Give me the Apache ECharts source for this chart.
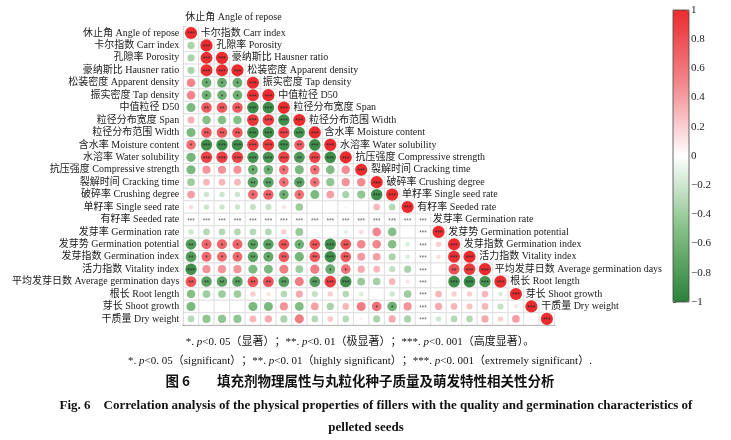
<!DOCTYPE html>
<html><head><meta charset="utf-8">
<script src="https://cdn.jsdelivr.net/npm/echarts@6/dist/echarts.min.js"></script>
<style>html,body{margin:0;padding:0;background:#fff}#c{width:731px;height:440px}</style>
</head><body><div id="c"></div>
<script>
const namesCN = ['休止角','卡尔指数','孔隙率','豪纳斯比','松装密度','振实密度','中值粒径','粒径分布宽度','粒径分布范围','含水率','水溶率','抗压强度','裂解时间','破碎率','单籽率','有籽率','发芽率','发芽势','发芽指数','活力指数','平均发芽日数','根长','芽长','干质量'];
const namesEN = ['Angle of repose','Carr index','Porosity','Hausner ratio','Apparent density','Tap density','D50','Span','Width','Moisture content','Water solubility','Compressive strength','Cracking time','Crushing degree','Single seed rate','Seeded rate','Germination rate','Germination potential','Germination index','Vitality index','Average germination days','Root length','Shoot growth','Dry weight'];
// lower-triangle correlation rows (null = not computable)
const corr = [
 [1],
 [-0.35, 1],
 [-0.35, 0.97, 1],
 [-0.35, 0.98, 0.97, 1],
 [0.5, -0.65, -0.65, -0.65, 1],
 [0.5, -0.63, -0.63, -0.63, 0.96, 1],
 [-0.55, 0.75, 0.75, 0.75, -0.9, -0.9, 1],
 [0.33, -0.5, -0.5, -0.5, 0.93, 0.9, -0.88, 1],
 [-0.55, 0.75, 0.75, 0.75, -0.9, -0.9, 0.88, -0.86, 1],
 [0.62, -0.88, -0.88, -0.88, 0.9, 0.92, -0.88, 0.72, -0.9, 1],
 [-0.58, 0.88, 0.88, 0.88, -0.86, -0.85, 0.88, -0.8, 0.88, -0.9, 1],
 [-0.55, 0.45, 0.45, 0.45, -0.65, -0.62, 0.62, -0.55, 0.62, -0.52, 0.48, 1],
 [-0.4, 0.3, 0.3, 0.3, -0.75, -0.75, 0.63, -0.74, 0.62, -0.45, 0.45, 0.48, 1],
 [0.4, -0.2, -0.2, -0.2, 0.65, 0.72, -0.63, 0.62, -0.55, 0.4, -0.35, -0.45, -0.88, 1],
 [0.15, -0.2, -0.2, -0.2, -0.25, -0.25, 0.12, -0.4, 0.03, 0.02, 0.05, 0.02, 0.3, -0.3, 1],
 [null, null, null, null, null, null, null, null, null, null, null, null, null, null, null, null],
 [-0.2, -0.3, -0.3, -0.3, -0.3, -0.3, 0.2, -0.42, 0.04, 0.02, -0.12, 0.15, 0.5, -0.5, 0.02, null, 1],
 [-0.78, 0.68, 0.68, 0.68, -0.75, -0.75, 0.78, -0.62, 0.78, -0.88, 0.78, 0.5, 0.5, -0.5, -0.15, null, 0.2, 1],
 [-0.78, 0.66, 0.66, 0.66, -0.73, -0.68, 0.75, -0.58, 0.76, -0.88, 0.76, 0.42, 0.4, -0.35, -0.15, null, 0.15, 0.97, 1],
 [-0.88, 0.45, 0.45, 0.45, -0.55, -0.55, 0.55, -0.4, 0.56, -0.65, 0.62, 0.35, 0.3, -0.25, -0.35, null, 0.03, 0.8, 0.92, 1],
 [0.78, -0.75, -0.75, -0.75, 0.78, 0.78, -0.78, 0.55, -0.78, 0.9, -0.88, -0.42, -0.38, 0.3, 0.12, null, 0.04, -0.9, -0.92, -0.86, 1],
 [-0.5, -0.4, -0.4, -0.4, 0.2, 0.12, -0.3, 0.35, -0.25, 0.2, -0.3, -0.15, 0.03, -0.2, -0.4, null, 0.3, 0.2, 0.2, 0.3, -0.15, 1],
 [-0.55, 0.01, 0.01, 0.01, -0.55, -0.55, 0.45, -0.52, 0.4, -0.35, 0.3, 0.55, 0.62, -0.62, 0.45, null, 0.35, 0.3, 0.25, 0.3, -0.25, 0.12, 1],
 [-0.3, -0.45, -0.45, -0.45, 0.3, 0.35, -0.35, 0.55, -0.3, 0.22, -0.3, 0.08, -0.35, 0.35, -0.35, null, -0.2, -0.3, -0.3, 0.35, 0.2, 0.4, 0.05, 1]
];
const sigCuts = [0.6, 0.72, 0.85]; // |r| thresholds for *, **, ***
const barTicks = [-1, -0.8, -0.6, -0.4, -0.2, 0, 0.2, 0.4, 0.6, 0.8, 1];
const palette = ['#2B8139', '#84C086', '#FFFFFF', '#F2868C', '#EB2B2E'];

const labels = namesCN.map((c, i) => c + ' ' + namesEN[i]);
const cells = [];
corr.forEach((row, i) => row.forEach((r, j) => cells.push([j, i, r === null ? 0 : r, r === null ? 1 : 0])));
const FONT = '"Liberation Serif", "Noto Sans CJK SC"';

function stars(a) {
  if (a >= sigCuts[2]) return '***';
  if (a >= sigCuts[1]) return '**';
  if (a >= sigCuts[0]) return '*';
  return '';
}

function renderItem(params, api) {
  const j = api.value(0), i = api.value(1), r = api.value(2), na = api.value(3) === 1;
  const c = api.coord([j, i]);
  const sz = api.size([1, 1]);
  const w = sz[0], h = sz[1];
  const ch = [{type: 'rect', shape: {x: c[0] - w / 2, y: c[1] - h / 2, width: w, height: h},
    style: {fill: '#fff', stroke: '#dcdcdc', lineWidth: 0.8}, z2: 0}];
  if (!na) {
    ch.push({type: 'circle', shape: {cx: c[0], cy: c[1], r: Math.sqrt(Math.abs(r)) * h * 0.49},
      style: {fill: api.visual('color')}, z2: 1});
  }
  const s = na ? '***' : stars(Math.abs(r));
  if (s) ch.push({type: 'text', style: {text: s, x: c[0], y: c[1] + 1.6, align: 'center', verticalAlign: 'middle',
    font: '6.5px "Liberation Sans"', fill: na ? '#666' : '#2a2a2a'}, z2: 2});
  if (i === j) {
    ch.push({type: 'text', style: {text: labels[j], x: c[0] - w / 2 + 2, y: c[1] - h - (j === 0 ? 3 : 0),
      align: 'left', verticalAlign: 'middle', font: '10px ' + FONT, fill: '#1a1a1a'}, z2: 10});
  }
  return {type: 'group', children: ch};
}

const chart = echarts.init(document.getElementById('c'), null, {renderer: 'canvas'});
chart.setOption({
  animation: false,
  grid: [
    {left: 183.3, top: 26.8, width: 371.3, height: 298.3},
    {left: 673, top: 10, width: 16, height: 292}
  ],
  xAxis: [
    {type: 'category', gridIndex: 0, data: labels.map((_, k) => k), axisLabel: {show: false}, axisTick: {show: false},
     axisLine: {show: true, lineStyle: {color: '#707070', width: 1.6}}, splitLine: {show: false}},
    {type: 'value', gridIndex: 1, show: false, min: 0, max: 1}
  ],
  yAxis: [
    {type: 'category', gridIndex: 0, inverse: true, data: labels,
     axisLabel: {interval: 0, fontSize: 10, fontFamily: FONT, color: '#1a1a1a', margin: 4},
     axisTick: {show: false}, axisLine: {show: true, lineStyle: {color: '#707070', width: 1.6}}, splitLine: {show: false}},
    {type: 'value', gridIndex: 1, position: 'right', min: barTicks[0], max: barTicks[barTicks.length - 1], interval: 0.2,
     axisLine: {show: false}, axisTick: {show: true, length: 3, lineStyle: {color: '#333', width: 0.8}},
     axisLabel: {margin: 2, fontSize: 11, fontFamily: '"Liberation Serif"', color: '#222',
       formatter: v => { const t = Math.round(v * 10) / 10; return t < 0 ? '\u2212' + Math.abs(t) : String(t); }},
     splitLine: {show: false}}
  ],
  visualMap: {type: 'continuous', min: -1, max: 1, dimension: 2, seriesIndex: 0, calculable: false,
    left: 673, top: 10, itemWidth: 16, itemHeight: 292, padding: 0, text: null, showLabel: false,
    inRange: {color: palette}},
  series: [{type: 'custom', coordinateSystem: 'cartesian2d', xAxisIndex: 0, yAxisIndex: 0, clip: false,
    encode: {x: 0, y: 1}, data: cells, renderItem: renderItem}],
  graphic: [
    {type: 'rect', shape: {x: 673, y: 10, width: 16, height: 292}, style: {fill: 'none', stroke: '#444', lineWidth: 0.8}, z: 100},
    {type: 'text', x: 360, y: 342, z: 100, style: {text: '*. {i|p}<0. 05（显著）；**. {i|p}<0. 01（极显著）；***. {i|p}<0. 001（高度显著）。',
      align: 'center', verticalAlign: 'middle', font: '11px ' + FONT, fill: '#111',
      rich: {i: {fontStyle: 'italic', fontSize: 11, fontFamily: 'Liberation Serif'}}}},
    {type: 'text', x: 360, y: 361, z: 100, style: {text: '*. {i|p}<0. 05（significant）；**. {i|p}<0. 01（highly significant）；***. {i|p}<0. 001（extremely significant）.',
      align: 'center', verticalAlign: 'middle', font: '11px ' + FONT, fill: '#111',
      rich: {i: {fontStyle: 'italic', fontSize: 11, fontFamily: 'Liberation Serif'}}}},
    {type: 'text', x: 360, y: 381, z: 100, style: {text: '图 6　　填充剂物理属性与丸粒化种子质量及萌发特性相关性分析',
      align: 'center', verticalAlign: 'middle', font: 'bold 13.5px "Noto Sans CJK SC"', fill: '#111'}},
    {type: 'text', x: 376, y: 406, z: 100, style: {text: 'Fig. 6    Correlation analysis of the physical properties of fillers with the quality and germination characteristics of',
      align: 'center', verticalAlign: 'middle', font: 'bold 13px "Liberation Serif"', fill: '#111'}},
    {type: 'text', x: 366, y: 428, z: 100, style: {text: 'pelleted seeds',
      align: 'center', verticalAlign: 'middle', font: 'bold 13px "Liberation Serif"', fill: '#111'}}
  ]
});
</script></body></html>
